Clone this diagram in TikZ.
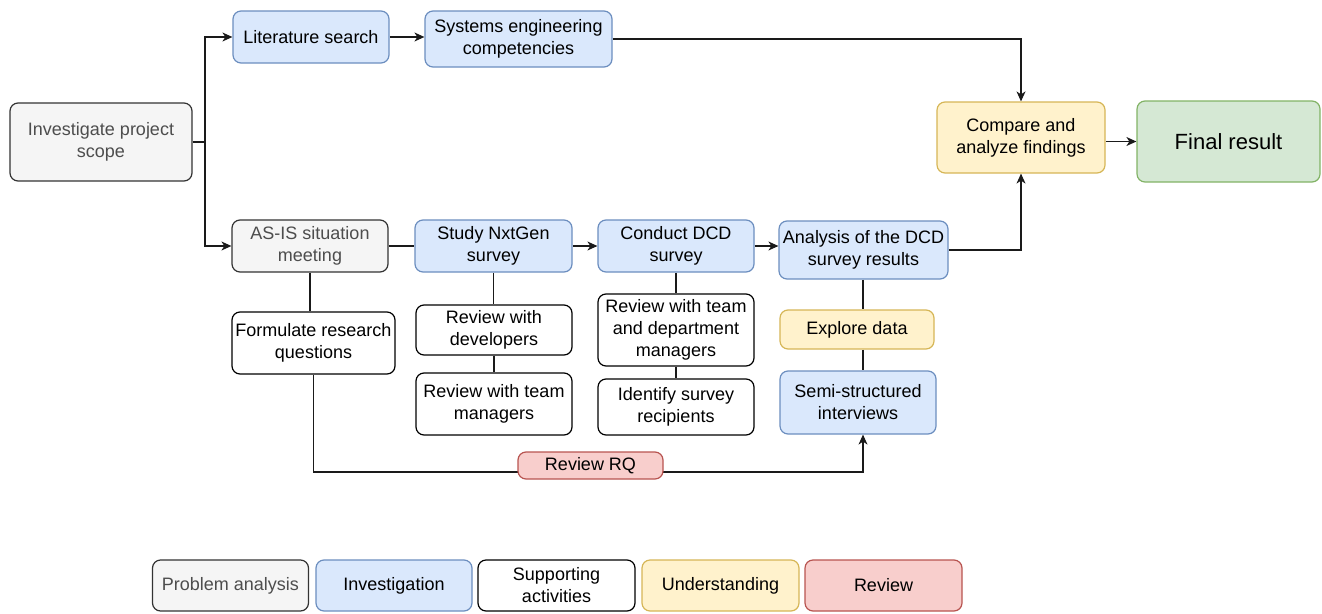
\documentclass[tikz,border=0pt]{standalone}
\usepackage{fontspec}
\setmainfont{Liberation Sans}
\usetikzlibrary{arrows.meta,backgrounds}
\definecolor{grayfill}{HTML}{F5F5F5}
\definecolor{graystroke}{HTML}{333333}
\definecolor{graytext}{HTML}{4D4D4D}
\definecolor{bluefill}{HTML}{DAE8FC}
\definecolor{bluestroke}{HTML}{6C8EBF}
\definecolor{yelfill}{HTML}{FFF2CC}
\definecolor{yelstroke}{HTML}{D6B656}
\definecolor{grnfill}{HTML}{D5E8D4}
\definecolor{grnstroke}{HTML}{82B366}
\definecolor{redfill}{HTML}{F8CECC}
\definecolor{redstroke}{HTML}{B85450}
\definecolor{linecol}{HTML}{1A1A1A}
\tikzset{
  box/.style={rectangle, rounded corners=8pt, line width=1.2pt, align=center, inner sep=0pt, font=\fontsize{18}{22}\selectfont},
  sPA/.style={box, fill=grayfill, draw=graystroke, text=graytext},
  sINV/.style={box, fill=bluefill, draw=bluestroke, text=black},
  sSUP/.style={box, fill=white, draw=black, text=black},
  sUND/.style={box, fill=yelfill, draw=yelstroke, text=black},
  sREV/.style={box, fill=redfill, draw=redstroke, text=black},
  sFIN/.style={box, fill=grnfill, draw=grnstroke, text=black, font=\fontsize{22}{26}\selectfont},
  conn/.style={draw=linecol, line width=1.2pt},
  arr/.style={conn, -{Stealth[length=10pt,width=9pt,inset=3pt]}}
}
\begin{document}
\begin{tikzpicture}[x=1pt, y=-1pt]
\useasboundingbox (0,0) rectangle (1322,613);
% main nodes
\node[sPA, minimum width=182pt, minimum height=78pt] (scope) at (101,142) {Investigate project\\scope};
\node[sINV, minimum width=156pt, minimum height=52pt] (lit) at (311,37) {Literature search};
\node[sINV, minimum width=187pt, minimum height=56pt] (sys) at (518.5,39) {Systems engineering\\competencies};
\node[sUND, minimum width=168pt, minimum height=71pt] (cmp) at (1021,137.5) {Compare and\\analyze findings};
\node[sFIN, minimum width=183pt, minimum height=81pt] (fin) at (1228.5,141.5) {Final result};
\node[sPA, minimum width=156pt, minimum height=52pt] (asis) at (310,246) {AS-IS situation\\meeting};
\node[sINV, minimum width=157pt, minimum height=52pt] (nxt) at (493.5,246) {Study NxtGen\\survey};
\node[sINV, minimum width=156pt, minimum height=52pt] (dcd) at (676,246) {Conduct DCD\\survey};
\node[sINV, minimum width=169pt, minimum height=58pt] (ana) at (863.5,250) {Analysis of the DCD\\survey results};
\node[sSUP, minimum width=163pt, minimum height=62pt] (frq) at (313.5,343) {Formulate research\\questions};
\node[sSUP, minimum width=156pt, minimum height=50pt] (rdev) at (494,330) {Review with\\developers};
\node[sSUP, minimum width=156pt, minimum height=62pt] (rtm) at (494,404) {Review with team\\managers};
\node[sSUP, minimum width=156pt, minimum height=72pt] (rtd) at (676,330) {Review with team\\and department\\managers};
\node[sSUP, minimum width=156pt, minimum height=56pt] (isr) at (676,407) {Identify survey\\recipients};
\node[sUND, minimum width=154pt, minimum height=39pt] (exp) at (857,329.5) {Explore data};
\node[sINV, minimum width=156pt, minimum height=63pt] (semi) at (858,402.5) {Semi-structured\\interviews};
\node[sREV, minimum width=145pt, minimum height=27pt] (rrq) at (590.5,465.5) {Review RQ};
% legend
\node[sPA, minimum width=156pt, minimum height=51pt] (lpa) at (230.5,585.5) {Problem analysis};
\node[sINV, minimum width=156pt, minimum height=51pt] (linv) at (394,585.5) {Investigation};
\node[sSUP, minimum width=157pt, minimum height=51pt] (lsup) at (556.5,585.5) {Supporting\\activities};
\node[sUND, minimum width=157pt, minimum height=51pt] (lund) at (720.5,585.5) {Understanding};
\node[sREV, minimum width=157pt, minimum height=51pt] (lrev) at (883.5,585.5) {Review};
% coordinates
\coordinate (split) at (205,142);
\coordinate (fbrow) at (0,472);
\coordinate (vx) at (863,0);
\begin{pgfonlayer}{background}
\draw[conn] (scope.east) -- (split);
\draw[arr] (split) |- (lit.west);
\draw[arr] (split) |- (asis.west);
\draw[arr] (lit.east) -- (sys.west |- lit.east);
\draw[arr] (sys.east) -| (cmp.north);
\draw[arr] (ana.east) -| (cmp.south);
\draw[arr] (cmp.east |- fin.west) -- (fin.west);
\draw[conn] (asis.east) -- (nxt.west);
\draw[arr] (nxt.east) -- (dcd.west);
\draw[arr] (dcd.east) -- (dcd.east -| ana.west);
\draw[conn] (asis.south) -- (asis.south |- frq.north);
\draw[conn] (nxt.south) -- (nxt.south |- rdev.north);
\draw[conn] (rdev.south) -- (rdev.south |- rtm.north);
\draw[conn] (dcd.south) -- (dcd.south |- rtd.north);
\draw[conn] (rtd.south) -- (rtd.south |- isr.north);
\draw[conn] (vx |- ana.south) -- (vx |- exp.north);
\draw[conn] (vx |- exp.south) -- (vx |- semi.north);
\draw[arr] (frq.south) -- (frq.south |- fbrow) -| (vx |- semi.south);
\end{pgfonlayer}
\end{tikzpicture}
\end{document}
